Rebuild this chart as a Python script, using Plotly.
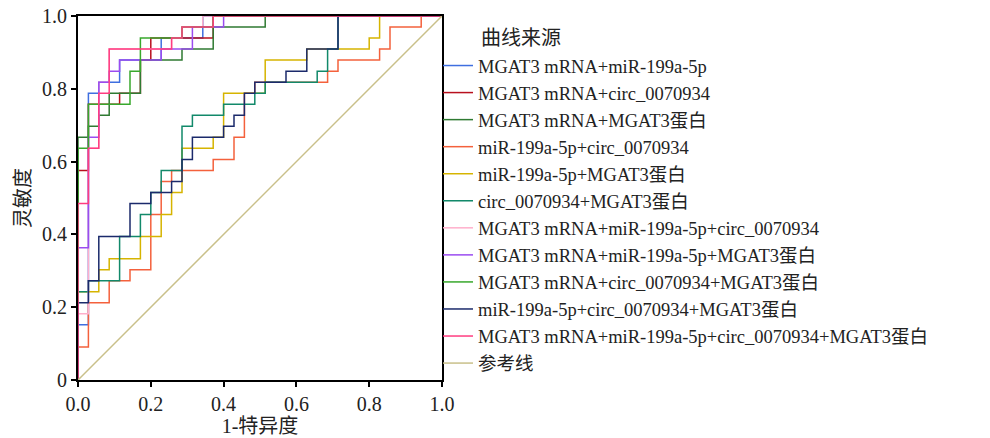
import plotly.graph_objects as go

N_NEG = 35  # negatives (1-specificity steps)
N_POS = 33  # positives (sensitivity steps)

names = [
    "MGAT3 mRNA+miR-199a-5p",
    "MGAT3 mRNA+circ_0070934",
    "MGAT3 mRNA+MGAT3蛋白",
    "miR-199a-5p+circ_0070934",
    "miR-199a-5p+MGAT3蛋白",
    "circ_0070934+MGAT3蛋白",
    "MGAT3 mRNA+miR-199a-5p+circ_0070934",
    "MGAT3 mRNA+miR-199a-5p+MGAT3蛋白",
    "MGAT3 mRNA+circ_0070934+MGAT3蛋白",
    "miR-199a-5p+circ_0070934+MGAT3蛋白",
    "MGAT3 mRNA+miR-199a-5p+circ_0070934+MGAT3蛋白",
]
colors = ["#3f6fe0", "#b8101e", "#2f7a32", "#f4613c", "#d6b400", "#12896a",
          "#ffafcb", "#9b4cf0", "#38a82c", "#1b2a6b", "#ff3c80"]

# ROC corner points as counts: false positives (of N_NEG) and true positives (of N_POS)
fp_1 = [0, 0, 1, 1, 2, 2, 4, 4, 8, 8, 12, 12, 35]
tp_1 = [0, 5, 5, 26, 26, 27, 27, 29, 29, 31, 31, 33, 33]
fp_2 = [0, 0, 1, 1, 4, 4, 6, 6, 7, 7, 13, 13, 35]
tp_2 = [0, 19, 19, 25, 25, 26, 26, 29, 29, 31, 31, 33, 33]
fp_3 = [0, 0, 1, 1, 2, 2, 3, 3, 6, 6, 10, 10, 13, 13, 18, 18, 35]
tp_3 = [0, 22, 22, 23, 23, 24, 24, 26, 26, 29, 29, 30, 30, 32, 32, 33, 33]
fp_4 = [0, 0, 1, 1, 3, 3, 5, 5, 7, 7, 8, 8, 9, 9, 13, 13, 15, 15, 16, 16, 17, 17,
        24, 24, 25, 25, 29, 29, 30, 30, 33, 33, 35]
tp_4 = [0, 3, 3, 7, 7, 9, 9, 10, 10, 15, 15, 18, 18, 19, 19, 20, 20, 22, 22, 26, 26, 27,
        27, 28, 28, 29, 29, 30, 30, 32, 32, 33, 33]
fp_5 = [0, 0, 2, 2, 3, 3, 6, 6, 8, 8, 9, 9, 10, 10, 13, 13, 14, 14, 18, 18, 22, 22,
        28, 28, 29, 29, 35]
tp_5 = [0, 8, 8, 10, 10, 11, 11, 13, 13, 15, 15, 17, 17, 21, 21, 22, 22, 26, 26, 29, 29, 30,
        30, 31, 31, 33, 33]
fp_6 = [0, 0, 1, 1, 4, 4, 6, 6, 7, 7, 8, 8, 10, 10, 11, 11, 14, 14, 17, 17, 18, 18,
        23, 23, 24, 24, 25, 25, 35]
tp_6 = [0, 8, 8, 9, 9, 13, 13, 15, 15, 17, 17, 19, 19, 23, 23, 24, 24, 25, 25, 26, 26, 27,
        27, 28, 28, 30, 30, 33, 33]
fp_7 = [0, 0, 1, 1, 2, 2, 3, 3, 9, 9, 10, 10, 12, 12, 35]
tp_7 = [0, 6, 6, 21, 21, 27, 27, 30, 30, 31, 31, 32, 32, 33, 33]
fp_8 = [0, 0, 1, 1, 2, 2, 3, 3, 4, 4, 8, 8, 11, 11, 14, 14, 35]
tp_8 = [0, 12, 12, 22, 22, 27, 27, 28, 28, 29, 29, 30, 30, 32, 32, 33, 33]
fp_9 = [0, 0, 1, 1, 5, 5, 6, 6, 10, 10, 13, 13, 35]
tp_9 = [0, 21, 21, 25, 25, 28, 28, 31, 31, 32, 32, 33, 33]
fp_10 = [0, 0, 1, 1, 2, 2, 5, 5, 7, 7, 9, 9, 10, 10, 11, 11, 14, 14, 15, 15, 16, 16,
         17, 17, 20, 20, 22, 22, 25, 25, 35]
tp_10 = [0, 7, 7, 9, 9, 13, 13, 16, 16, 17, 17, 18, 18, 20, 20, 22, 22, 23, 23, 24, 24, 26,
         26, 27, 27, 28, 28, 30, 30, 33, 33]
fp_11 = [0, 0, 1, 1, 2, 2, 3, 3, 9, 9, 10, 10, 13, 13, 35]
tp_11 = [0, 16, 16, 21, 21, 26, 26, 30, 30, 31, 31, 32, 32, 33, 33]

fps = [fp_1, fp_2, fp_3, fp_4, fp_5, fp_6, fp_7, fp_8, fp_9, fp_10, fp_11]
tps = [tp_1, tp_2, tp_3, tp_4, tp_5, tp_6, tp_7, tp_8, tp_9, tp_10, tp_11]

ref_x = [0, 1]
ref_y = [0, 1]

x_ticks = [0, 0.2, 0.4, 0.6, 0.8, 1.0]
x_ticktext = ["0.0", "0.2", "0.4", "0.6", "0.8", "1.0"]
y_ticks = [0, 0.2, 0.4, 0.6, 0.8, 1.0]
y_ticktext = ["0", "0.2", "0.4", "0.6", "0.8", "1.0"]

FONT = "Liberation Serif, 'Noto Sans CJK SC', serif"

fig = go.Figure()
for name, col, fp, tp in zip(names, colors, fps, tps):
    fig.add_trace(go.Scatter(
        x=[v / N_NEG for v in fp], y=[v / N_POS for v in tp],
        mode="lines", name=name, line=dict(color=col, width=1.5),
    ))
fig.add_trace(go.Scatter(x=ref_x, y=ref_y, mode="lines", name="参考线",
                         line=dict(color="#c9c08a", width=1.5)))

axis_common = dict(
    range=[0, 1], showgrid=False, zeroline=False, showline=True, mirror=True,
    linecolor="black", linewidth=2, ticks="outside", ticklen=5, tickwidth=1.5,
    tickcolor="black", tickfont=dict(family=FONT, size=20, color="#222"),
    layer="below traces",
)
fig.update_xaxes(**axis_common, tickvals=x_ticks, ticktext=x_ticktext,
                 title=dict(text="1-特异度", font=dict(family=FONT, size=20, color="#222"), standoff=5))
fig.update_yaxes(**axis_common, tickvals=y_ticks, ticktext=y_ticktext,
                 title=dict(text="灵敏度", font=dict(family=FONT, size=20, color="#222"), standoff=6))

fig.update_layout(
    width=990, height=438,
    margin=dict(l=78, r=548, t=16, b=58, autoexpand=False),
    paper_bgcolor="white", plot_bgcolor="white",
    showlegend=True,
    legend=dict(x=(438 - 78) / 364, xanchor="left", y=(380 - 47) / 364, yanchor="top",
                font=dict(family=FONT, size=18.5, color="#222"),
                bgcolor="rgba(0,0,0,0)", itemwidth=30, tracegroupgap=0),
    annotations=[dict(text="曲线来源", xref="paper", yref="paper",
                      x=(479 - 78) / 364, y=(380 - 38) / 364, xanchor="left", yanchor="middle",
                      showarrow=False, font=dict(family=FONT, size=20, color="#222"))],
)

fig.write_html("out.html")
